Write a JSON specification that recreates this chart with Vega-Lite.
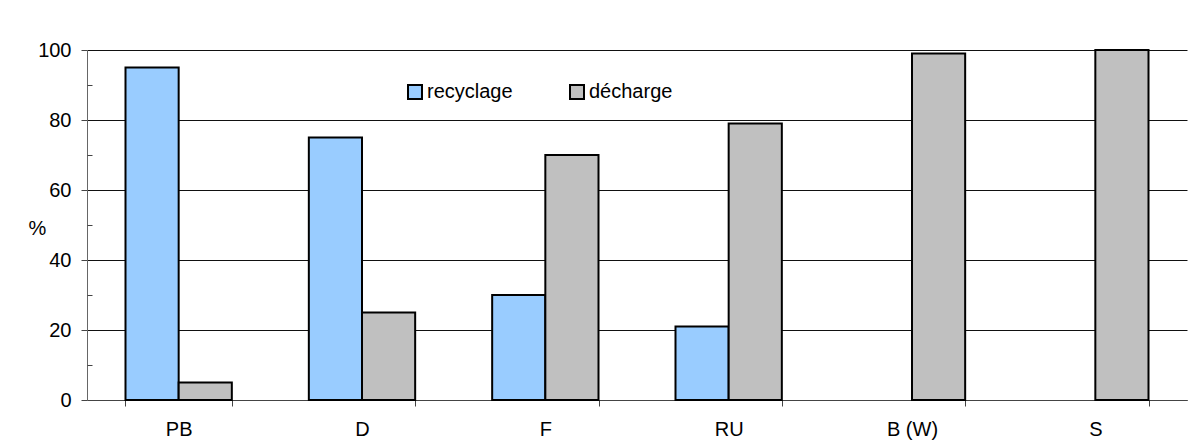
{
  "$schema": "https://vega.github.io/schema/vega-lite/v6.json",
  "width": 1100,
  "height": 350,
  "autosize": "none",
  "padding": {"left": 87, "top": 50, "right": 9, "bottom": 42},
  "background": "white",
  "config": {
    "font": "Liberation Sans",
    "view": {"stroke": null},
    "axis": {"labelFont": "Liberation Sans", "labelColor": "#000", "titleColor": "#000"}
  },
  "data": {
    "values": [
      {"pays": "PB", "type": "recyclage", "pct": 95},
      {"pays": "PB", "type": "décharge", "pct": 5},
      {"pays": "D", "type": "recyclage", "pct": 75},
      {"pays": "D", "type": "décharge", "pct": 25},
      {"pays": "F", "type": "recyclage", "pct": 30},
      {"pays": "F", "type": "décharge", "pct": 70},
      {"pays": "RU", "type": "recyclage", "pct": 21},
      {"pays": "RU", "type": "décharge", "pct": 79},
      {"pays": "B (W)", "type": "décharge", "pct": 99},
      {"pays": "S", "type": "décharge", "pct": 100}
    ]
  },
  "layer": [
    {
      "mark": {"type": "bar", "stroke": "#000", "strokeWidth": 2, "opacity": 1},
      "encoding": {
        "x": {
          "field": "pays",
          "type": "nominal",
          "sort": ["PB", "D", "F", "RU", "B (W)", "S"],
          "scale": {"paddingInner": 0.42, "paddingOuter": 0.21},
          "axis": {
            "title": null,
            "labelAngle": 0,
            "labelFontSize": 20,
            "labelPadding": 13,
            "tickBand": "extent",
            "tickSize": 6,
            "tickColor": "#444",
            "domainColor": "#444",
            "grid": false
          }
        },
        "xOffset": {
          "field": "type",
          "type": "nominal",
          "sort": ["recyclage", "décharge"],
          "scale": {"domain": ["recyclage", "décharge"], "paddingInner": 0, "paddingOuter": 0}
        },
        "y": {
          "field": "pct",
          "type": "quantitative",
          "scale": {"domain": [0, 100], "nice": false},
          "axis": {
            "title": "%",
            "titleAngle": 0,
            "titleFontSize": 20,
            "titleFontWeight": "normal",
            "titleAlign": "center",
            "titleBaseline": "middle",
            "titleX": -50,
            "titleY": 178,
            "values": [0, 20, 40, 60, 80, 100],
            "labelFontSize": 20,
            "labelPadding": 10,
            "tickSize": 6,
            "tickColor": "#444",
            "domainColor": "#666",
            "grid": true,
            "gridColor": "#111",
            "gridWidth": 1
          }
        },
        "color": {
          "field": "type",
          "type": "nominal",
          "scale": {"domain": ["recyclage", "décharge"], "range": ["#99CCFF", "#C0C0C0"]},
          "legend": {
            "title": null,
            "orient": "none",
            "direction": "horizontal",
            "legendX": 318,
            "legendY": 32,
            "padding": 0,
            "symbolType": "square",
            "symbolSize": 196,
            "symbolStrokeColor": "#000",
            "symbolStrokeWidth": 2,
            "symbolOpacity": 1,
            "labelFontSize": 20,
            "labelColor": "#000",
            "labelOffset": 2,
            "columnPadding": 53
          }
        }
      }
    },
    {
      "mark": {"type": "tick", "opacity": 0},
      "encoding": {
        "y": {
          "field": "pct",
          "type": "quantitative",
          "axis": {
            "orient": "left",
            "title": null,
            "values": [10, 30, 50, 70, 90],
            "labels": false,
            "domain": false,
            "grid": false,
            "tickSize": -5,
            "tickColor": "#444"
          }
        }
      }
    }
  ],
  "resolve": {"axis": {"y": "independent"}}
}
